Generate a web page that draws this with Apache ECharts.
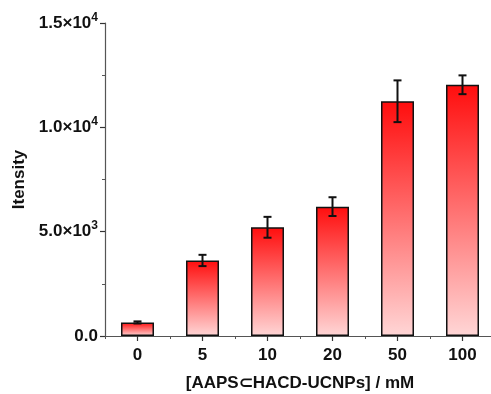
<!DOCTYPE html>
<html>
<head>
<meta charset="utf-8">
<script src="https://cdn.jsdelivr.net/npm/echarts@6/dist/echarts.min.js"></script>
<style>html,body{margin:0;padding:0;background:#fff}#c{width:491px;height:394px}</style>
</head>
<body>
<div id="c"></div>
<script>
var categories = ['0', '5', '10', '20', '50', '100'];
var intensity = [650, 3620, 5210, 6200, 11250, 12040];
var errors = [50, 270, 500, 450, 1000, 450];
var yTickLabels = {0: ['0.0', ''], 5000: ['5.0×10', '3'], 10000: ['1.0×10', '4'], 15000: ['1.5×10', '4']};

var FONT = 'Liberation Sans, Arial, sans-serif';
var chart = echarts.init(document.getElementById('c'), null, {renderer: 'canvas'});

var errData = categories.map(function (c, i) {
  return [i, intensity[i] - errors[i], intensity[i] + errors[i]];
});

var titleStyle = {color: '#111', fontFamily: FONT, fontWeight: 'bold', fontSize: 17};

chart.setOption({
  animation: false,
  grid: {left: 105, right: -4, top: 23, bottom: 58, containLabel: false, outerBoundsMode: 'none'},
  xAxis: [{
    type: 'category',
    data: categories,
    axisLine: {lineStyle: {color: '#555', width: 1.2}},
    axisTick: {show: true, alignWithLabel: true, length: 5, lineStyle: {color: '#333', width: 1.2}},
    axisLabel: {color: '#111', fontFamily: FONT, fontWeight: 'bold', fontSize: 17, margin: 11},
    name: '[AAPS\u2282HACD-UCNPs] / mM',
    nameLocation: 'middle',
    nameGap: 39,
    nameTextStyle: titleStyle
  }, {
    type: 'category',
    data: categories,
    position: 'bottom',
    axisLine: {show: false},
    axisTick: {show: true, alignWithLabel: false, length: 3, lineStyle: {color: '#555', width: 1}},
    axisLabel: {show: false}
  }],
  yAxis: {
    type: 'value',
    min: 0, max: 15000, interval: 5000,
    axisLine: {show: true, lineStyle: {color: '#555', width: 1.2}},
    axisTick: {show: true, length: 5, lineStyle: {color: '#333', width: 1.2}},
    minorTick: {show: true, splitNumber: 2, length: 3, lineStyle: {color: '#555', width: 1}},
    splitLine: {show: false},
    axisLabel: {
      margin: 7,
      formatter: function (v) {
        var t = yTickLabels[v];
        if (!t) return '';
        return t[1] ? '{b|' + t[0] + '}{s|' + t[1] + '}' : '{b|' + t[0] + '}';
      },
      rich: {
        b: {color: '#111', fontFamily: FONT, fontWeight: 'bold', fontSize: 17},
        s: {color: '#111', fontFamily: FONT, fontWeight: 'bold', fontSize: 12, padding: [0, 0, 11, 0]}
      }
    },
    name: 'Itensity',
    nameLocation: 'middle',
    nameRotate: 90,
    nameGap: 74,
    nameTextStyle: titleStyle
  },
  series: [
    {
      type: 'bar',
      data: intensity,
      barWidth: 33,
      itemStyle: {
        borderColor: '#111',
        borderWidth: 1.5,
        color: new echarts.graphic.LinearGradient(0, 0, 0, 1, [
          {offset: 0, color: '#ff0d0d'},
          {offset: 1, color: '#ffd6d6'}
        ])
      }
    },
    {
      type: 'custom',
      data: errData,
      z: 10,
      renderItem: function (params, api) {
        var x = api.value(0);
        var lo = api.coord([x, api.value(1)]);
        var hi = api.coord([x, api.value(2)]);
        var hw = 4;
        var st = {stroke: '#111', lineWidth: 2};
        return {
          type: 'group',
          children: [
            {type: 'line', shape: {x1: lo[0], y1: lo[1], x2: hi[0], y2: hi[1]}, style: st},
            {type: 'line', shape: {x1: lo[0] - hw, y1: lo[1], x2: lo[0] + hw, y2: lo[1]}, style: st},
            {type: 'line', shape: {x1: hi[0] - hw, y1: hi[1], x2: hi[0] + hw, y2: hi[1]}, style: st}
          ]
        };
      }
    }
  ]
});
</script>
</body>
</html>
